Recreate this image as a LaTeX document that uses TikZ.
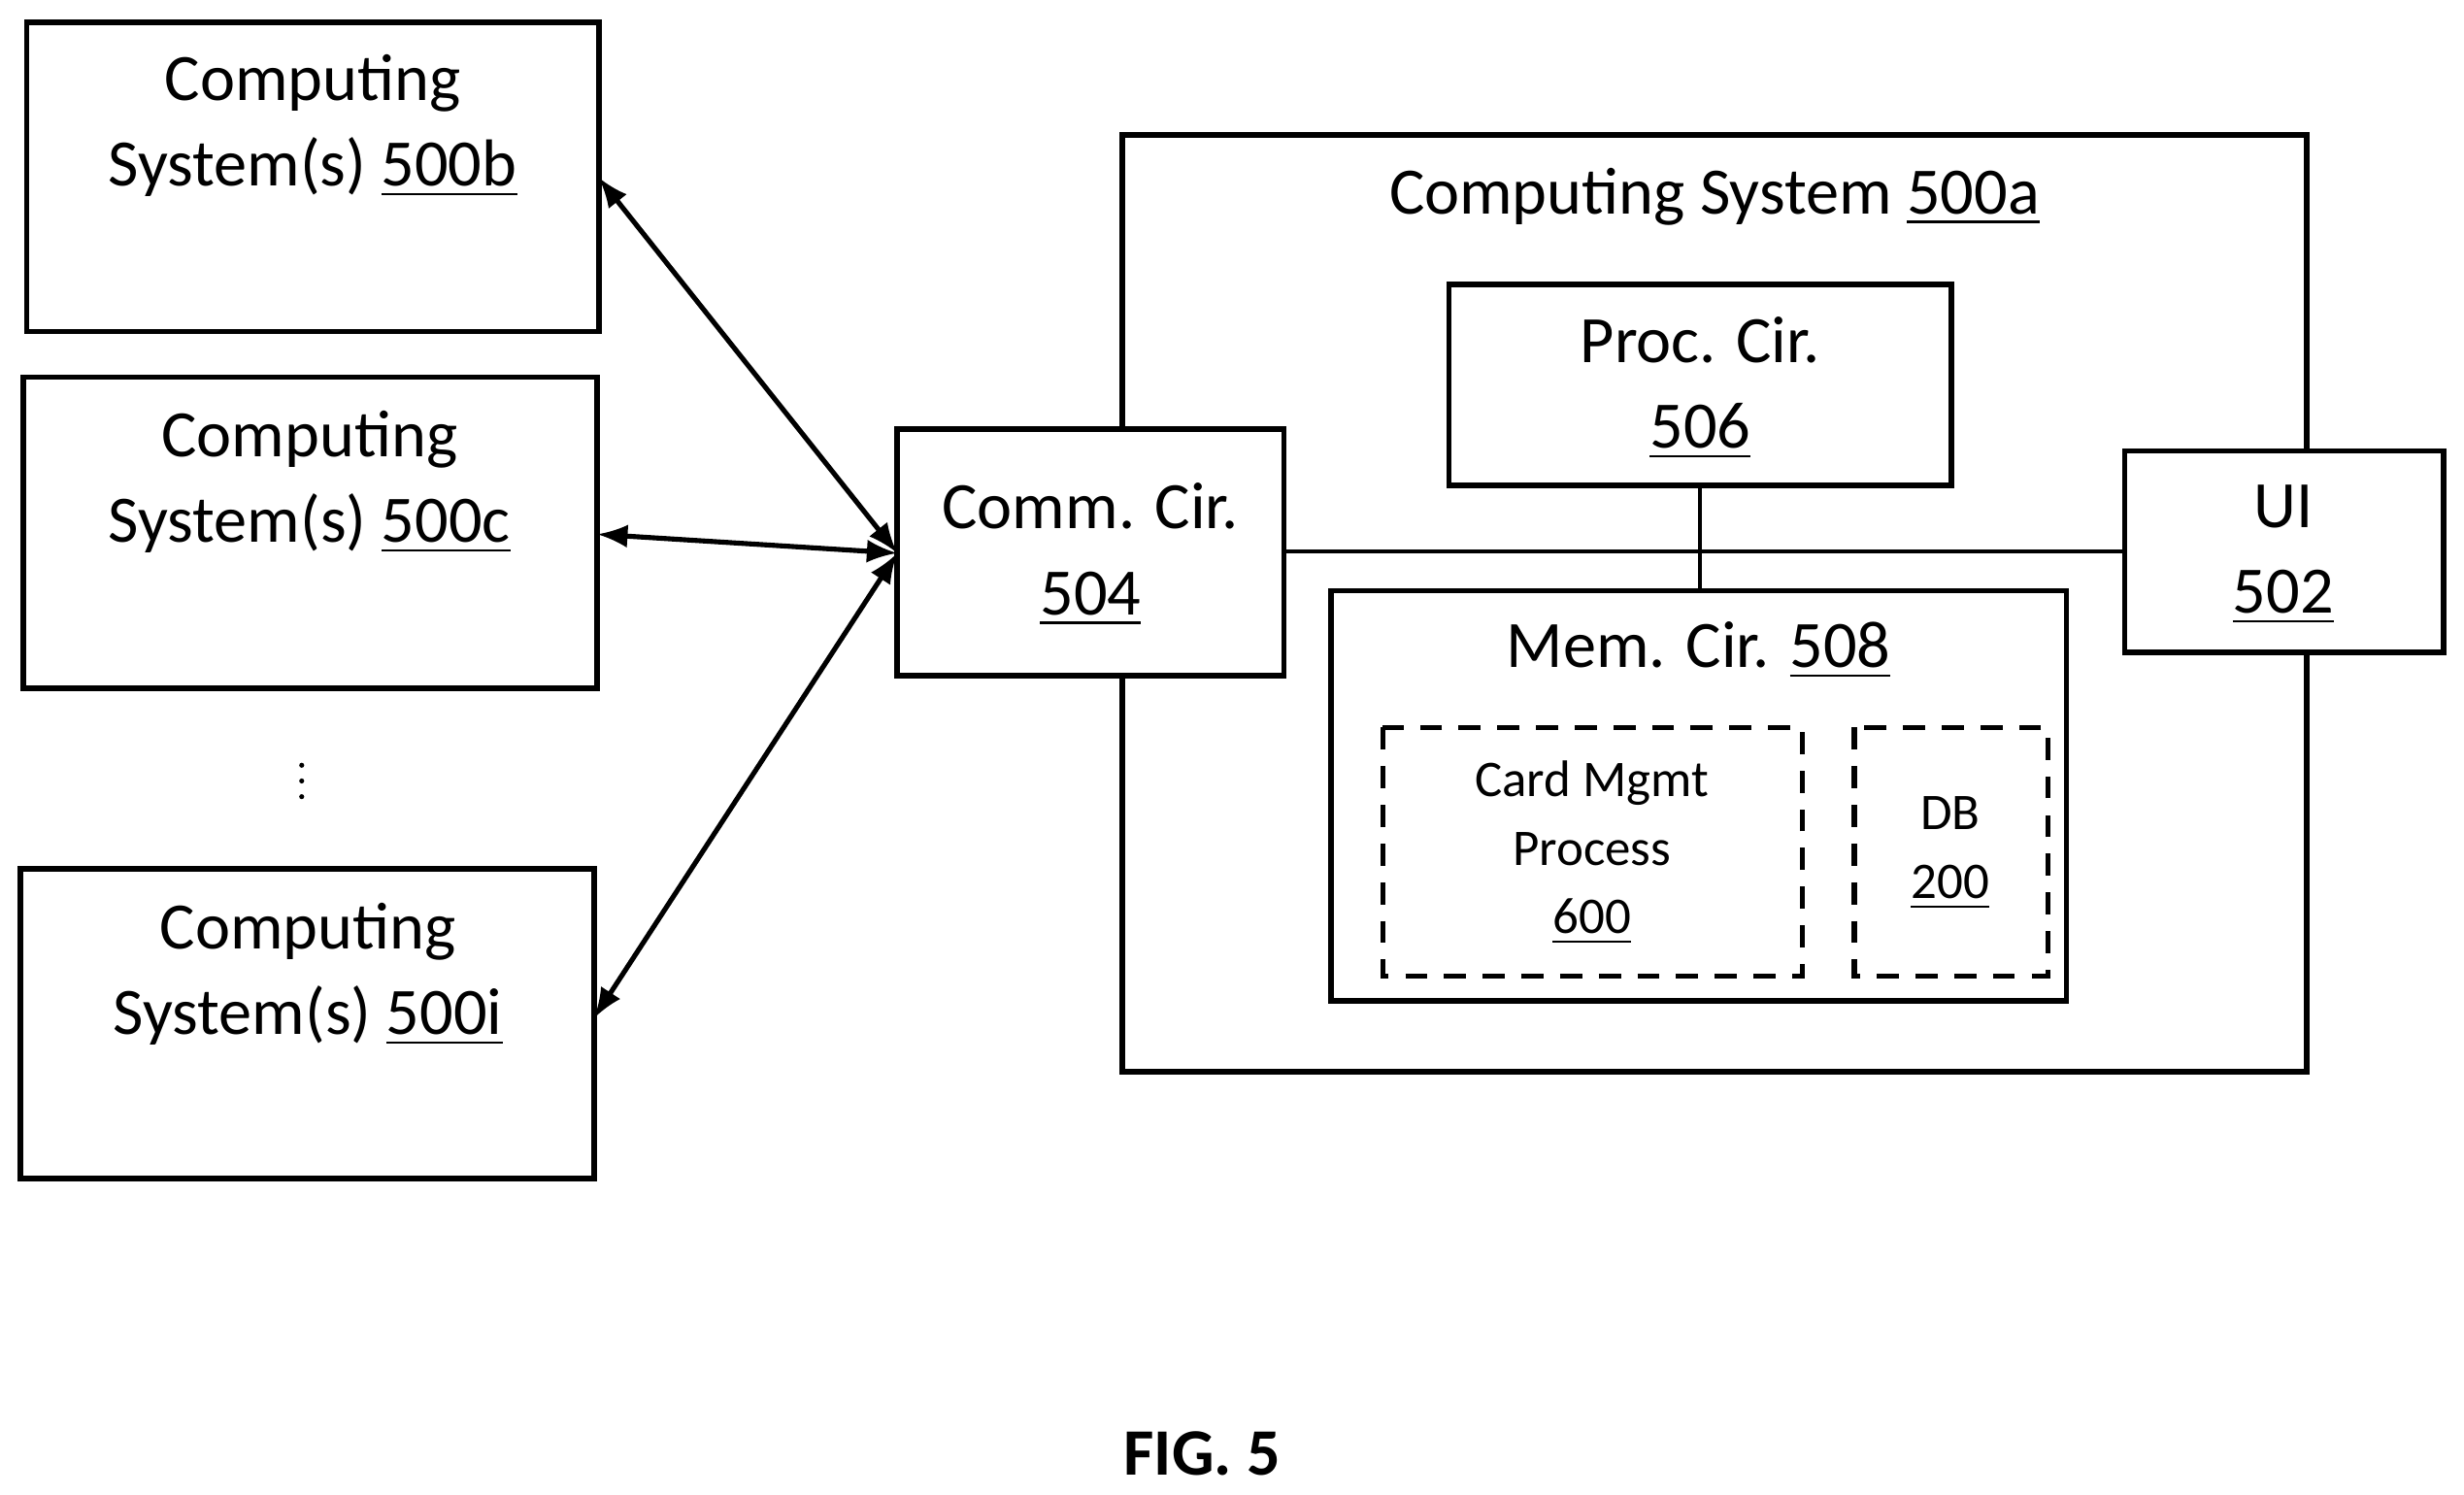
\documentclass[tikz,border=0pt]{standalone}
\usepackage{fontspec}
\setmainfont{Carlito}
\begin{document}
\begin{tikzpicture}[x=0.01cm,y=-0.01cm,
 box/.style={draw,line width=1pt,inner sep=0pt},
 dbox/.style={draw,line width=0.9pt,dash pattern=on 4pt off 3pt},
 big/.style={font=\fontsize{12}{15.5}\selectfont,align=center},
 small/.style={font=\fontsize{9.3}{12.4}\selectfont,align=center},
 arr/.style={line width=0.9pt,<->,>=latex}]
\useasboundingbox (0,0) rectangle (1568,951);
\draw[box] (17,14) rectangle (381,211);
\node[big] (b) at (199,80) {Computing\\System(s) \underline{500b}};
\draw[box] (15,240) rectangle (380,438);
\node[big] (c) at (197,307) {Computing\\System(s) \underline{500c}};
\draw[box] (13,553) rectangle (378,750);
\node[big] (i) at (196,620) {Computing\\System(s) \underline{500i}};
\foreach \yy in {487,497,507} \fill (192,\yy) circle (1.6);
\draw[box] (714,86) rectangle (1468,682);
\node[big] (a) at (1091,125) {Computing System \underline{500a}};
\draw[box,fill=white] (571,273) rectangle (817,430);
\node[big] (comm) at (694,353) {Comm. Cir.\\\underline{504}};
\draw[box] (922,181) rectangle (1242,309);
\node[big] (proc) at (1082,247) {Proc. Cir.\\\underline{506}};
\draw[box] (847,376) rectangle (1315,637);
\node[big] (mem) at (1081,414) {Mem. Cir. \underline{508}};
\draw[dbox] (880,463) rectangle (1147,621);
\node[small] (card) at (1013,543) {Card Mgmt\\Process\\\underline{600}};
\draw[dbox] (1180,463) rectangle (1303,621);
\node[small] (db) at (1241,543) {DB\\\underline{200}};
\draw[box,fill=white] (1352,287) rectangle (1555,415);
\node[big] (ui) at (1453,353) {UI\\\underline{502}};
\coordinate (cr) at (817,351); \coordinate (ul) at (1352,351);
\coordinate (pb) at (1082,309); \coordinate (mt) at (1082,376);
\coordinate (bc) at (381,113); \coordinate (cc) at (380,340); \coordinate (ic) at (378,648);
\coordinate (k) at (571,352);
\draw[line width=0.7pt] (cr) -- (ul);
\draw[line width=0.7pt] (pb) -- (mt);
\draw[arr] (bc) -- (k);
\draw[arr] (cc) -- (k);
\draw[arr] (ic) -- (k);
\node[font=\bfseries\fontsize{12}{14}\selectfont] (fig) at (765,925) {FIG. 5};
\end{tikzpicture}
\end{document}
